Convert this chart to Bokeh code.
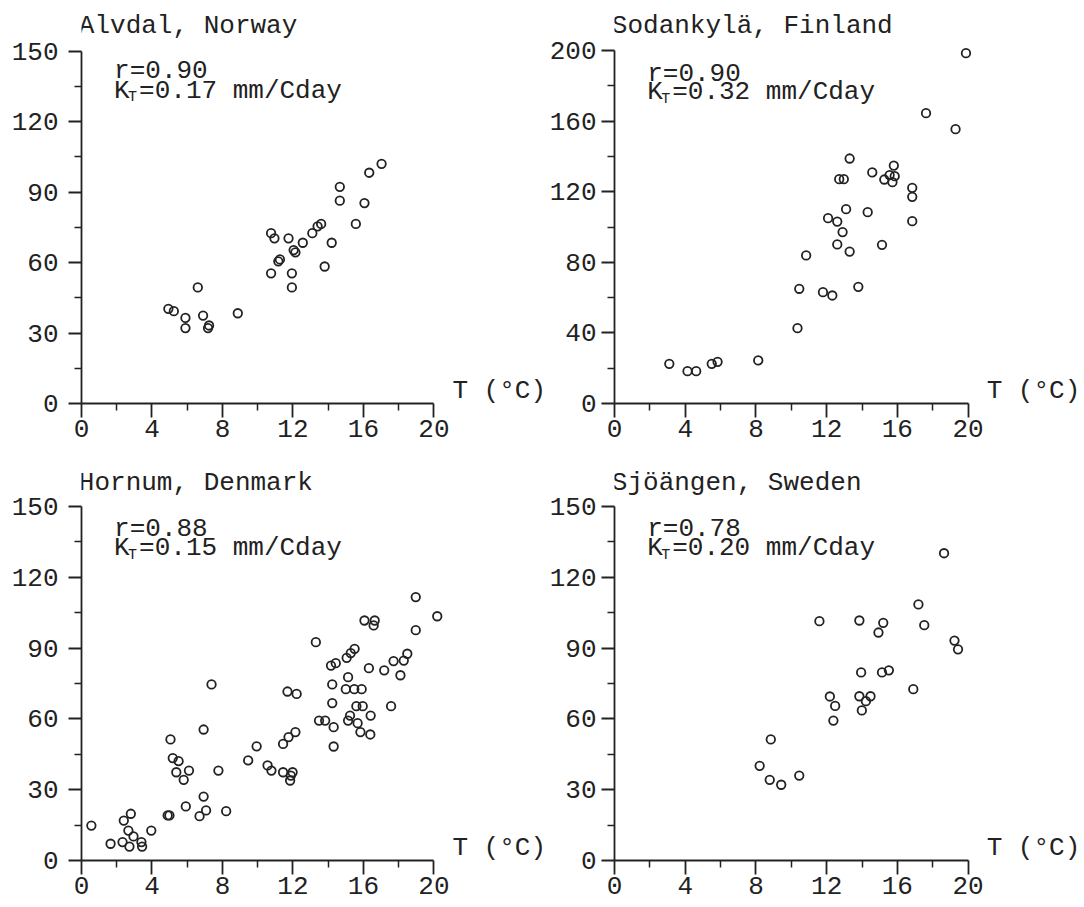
from bokeh.plotting import figure
from bokeh.layouts import column, row
from bokeh.models import Range1d, FixedTicker, Label
from bokeh.embed import file_html
from bokeh.resources import INLINE

# ---------------- data ----------------
alvdal_t = [4.93, 5.24, 5.9, 5.9, 6.6, 6.9, 7.18, 7.24, 8.87, 10.76, 10.76, 10.95, 11.17, 11.26,
            11.75, 11.94, 11.94, 12.04, 12.14, 12.56, 13.1, 13.4, 13.6, 13.8, 14.2, 14.66, 14.66,
            15.57, 16.06, 16.33, 17.03]
alvdal_m = [40.3, 39.3, 36.4, 32.1, 49.4, 37.4, 32.1, 33.2, 38.4, 55.4, 72.5, 70.3, 60.5, 61.3,
            70.3, 55.4, 49.4, 65.3, 64.3, 68.4, 72.5, 75.4, 76.4, 58.3, 68.4, 92.2, 86.3,
            76.4, 85.3, 98.2, 102.0]

sodankyla_t = [3.1, 4.13, 4.62, 5.5, 5.83, 8.13, 10.35, 10.45, 10.84, 11.79, 12.32, 12.08, 12.6,
               12.9, 12.6, 13.3, 12.71, 12.97, 13.1, 13.3, 13.79, 14.32, 14.58, 15.13, 15.26,
               15.56, 15.72, 15.8, 15.85, 16.84, 16.84, 16.84, 17.62, 19.29, 19.88]
sodankyla_m = [22.5, 18.3, 18.3, 22.5, 23.6, 24.4, 42.7, 65.0, 83.9, 63.1, 61.2, 105.0, 103.1,
               97.1, 90.1, 86.1, 127.1, 127.1, 110.1, 138.8, 66.1, 108.4, 130.9, 89.9, 126.9,
               129.4, 125.4, 134.8, 128.8, 122.2, 117.1, 103.3, 164.5, 155.4, 198.5]

hornum_t = [0.56, 1.65, 2.33, 2.72, 2.4, 2.8, 2.66, 2.95, 3.4, 3.44, 3.96, 4.89, 4.99, 5.05, 5.18,
            5.51, 5.38, 5.8, 6.1, 5.92, 6.7, 6.93, 6.93, 7.07, 7.38, 7.77, 8.21, 9.46, 9.94, 10.56,
            10.78, 11.44, 11.44, 11.75, 11.88, 11.98, 11.84, 11.69, 12.21, 12.14, 13.3, 13.48,
            13.83, 14.23, 14.23, 14.16, 14.43, 14.31, 14.31, 15.05, 15.28, 15.5, 15.13, 15.0,
            15.48, 15.9, 15.6, 15.96, 15.13, 15.24, 15.67, 15.83, 16.39, 16.41, 16.31, 16.06,
            16.64, 16.58, 17.18, 17.71, 17.57, 18.1, 18.29, 18.49, 18.97, 18.97, 20.19]
hornum_m = [14.8, 7.1, 7.8, 5.9, 16.9, 19.8, 12.7, 10.2, 7.8, 5.9, 12.7, 19.1, 19.1, 51.3, 43.4,
            42.1, 37.4, 34.2, 38.1, 22.9, 18.8, 55.5, 27.1, 21.2, 74.6, 38.1, 20.9, 42.4, 48.4,
            40.3, 38.1, 37.4, 49.4, 52.3, 36.0, 37.4, 33.9, 71.6, 70.6, 54.4, 92.5, 59.3, 59.3,
            74.6, 66.7, 82.6, 83.6, 56.5, 48.3, 85.9, 87.9, 89.7, 77.7, 72.6, 72.6, 72.6, 65.4,
            65.4, 59.3, 61.4, 58.2, 54.4, 53.4, 61.4, 81.5, 101.7, 101.7, 99.6, 80.6, 84.5, 65.4,
            78.5, 84.7, 87.6, 111.6, 97.6, 103.5]

sjoangen_t = [8.21, 8.78, 9.43, 8.84, 10.45, 11.59, 12.18, 12.48, 12.38, 13.85, 13.95, 13.85,
              14.22, 13.99, 14.48, 14.93, 15.2, 15.13, 15.52, 16.9, 17.19, 17.52, 18.64, 19.23,
              19.43]
sjoangen_m = [40.1, 34.2, 32.1, 51.3, 36.0, 101.4, 69.5, 65.5, 59.3, 101.7, 79.7, 69.6, 67.5,
              63.6, 69.6, 96.6, 100.7, 79.7, 80.6, 72.6, 108.5, 99.7, 130.2, 93.2, 89.5]

titles = ["Alvdal, Norway", "Sodankylä, Finland", "Hornum, Denmark", "Sjöängen, Sweden"]
r_texts = ["r=0.90", "r=0.90", "r=0.88", "r=0.78"]
k_texts = ["=0.17 mm/Cday", "=0.32 mm/Cday", "=0.15 mm/Cday", "=0.20 mm/Cday"]

x_ticks = [0, 4, 8, 12, 16, 20]
x_minor = [2, 6, 10, 14, 18]
y_ticks_150 = [0, 30, 60, 90, 120, 150]
y_minor_150 = [15, 45, 75, 105, 135]
y_ticks_200 = [0, 40, 80, 120, 160, 200]
y_minor_200 = [20, 60, 100, 140, 180]
x_label = "T (°C)"

# ---------------- style ----------------
FONT = "Liberation Mono"
INK = "#222222"
FS = "26px"
LIFT = 8  # px


def panel(t, m, title, r_text, k_text, yt, ym, ytop, xend, yend,
          bl, bt, bb, fw, fh, title_y, r_y, k_y, ystand):
    p = figure(frame_width=fw, frame_height=fh,
               min_border_left=bl, min_border_right=0,
               min_border_top=bt, min_border_bottom=bb,
               x_range=Range1d(0, xend), y_range=Range1d(0, yend),
               toolbar_location=None, output_backend="svg")
    p.outline_line_color = None
    p.xgrid.visible = False
    p.ygrid.visible = False
    p.background_fill_color = "white"
    p.border_fill_color = "white"

    for ax, ticks, minor, bounds in ((p.xaxis[0], x_ticks, x_minor, (0, 20)),
                                     (p.yaxis[0], yt, ym, (0, ytop))):
        ax.ticker = FixedTicker(ticks=ticks, minor_ticks=minor)
        ax.bounds = bounds
        ax.axis_line_color = INK
        ax.axis_line_width = 1.8
        ax.major_tick_line_color = INK
        ax.major_tick_line_width = 1.8
        ax.minor_tick_line_color = INK
        ax.minor_tick_line_width = 1.5
        ax.major_tick_in = 0
        ax.minor_tick_in = 0
        ax.major_label_text_font = FONT
        ax.major_label_text_font_size = FS
        ax.major_label_text_color = INK
    p.xaxis[0].major_tick_out = 14
    p.xaxis[0].minor_tick_out = 7
    p.xaxis[0].major_label_standoff = 2
    p.yaxis[0].major_tick_out = 13
    p.yaxis[0].minor_tick_out = 7
    p.yaxis[0].major_label_standoff = ystand

    p.scatter(t, m, marker="circle", size=8.5, fill_color=None,
              line_color=INK, line_width=1.8)

    def lab(x, y, text, size=FS, xo=0, yo=0, base="alphabetic"):
        p.add_layout(Label(x=x, y=y, text=text, x_offset=xo, y_offset=yo,
                           text_font=FONT, text_font_size=size,
                           text_color=INK, text_baseline=base))

    lab(-0.15, title_y, title, yo=LIFT)
    lab(1.85, r_y, r_text, yo=LIFT)
    lab(1.85, k_y, "K", yo=LIFT)
    lab(1.85, k_y, "T", size="15px", xo=14, yo=LIFT - 7)
    lab(1.85, k_y, k_text, xo=25, yo=LIFT)
    lab(21.05, 0, x_label, yo=-2, base="bottom")
    return p


XL = 465 / 17.62
XR = 466 / 17.68

p1 = panel(alvdal_t, alvdal_m, titles[0], r_texts[0], k_texts[0],
           y_ticks_150, y_minor_150, 150, XL, 395 / 2.35,
           81, 8, 55, 465, 395, 157.4, 138.0, 129.7, 10)
p2 = panel(sodankyla_t, sodankyla_m, titles[1], r_texts[1], k_texts[1],
           y_ticks_200, y_minor_200, 200, XR, 395 / 1.765,
           66, 8, 55, 466, 395, 209.5, 182.0, 171.7, 5)
p3 = panel(hornum_t, hornum_m, titles[2], r_texts[2], k_texts[2],
           y_ticks_150, y_minor_150, 150, XL, 400 / 2.36,
           81, 2, 44, 465, 400, 156.5, 137.2, 128.9, 10)
p4 = panel(sjoangen_t, sjoangen_m, titles[3], r_texts[3], k_texts[3],
           y_ticks_150, y_minor_150, 150, XR, 400 / 2.36,
           66, 2, 44, 466, 400, 156.5, 137.2, 128.9, 5)

layout = column(row(p1, p2), row(p3, p4))
open("out.html", "w").write(file_html(layout, INLINE))
